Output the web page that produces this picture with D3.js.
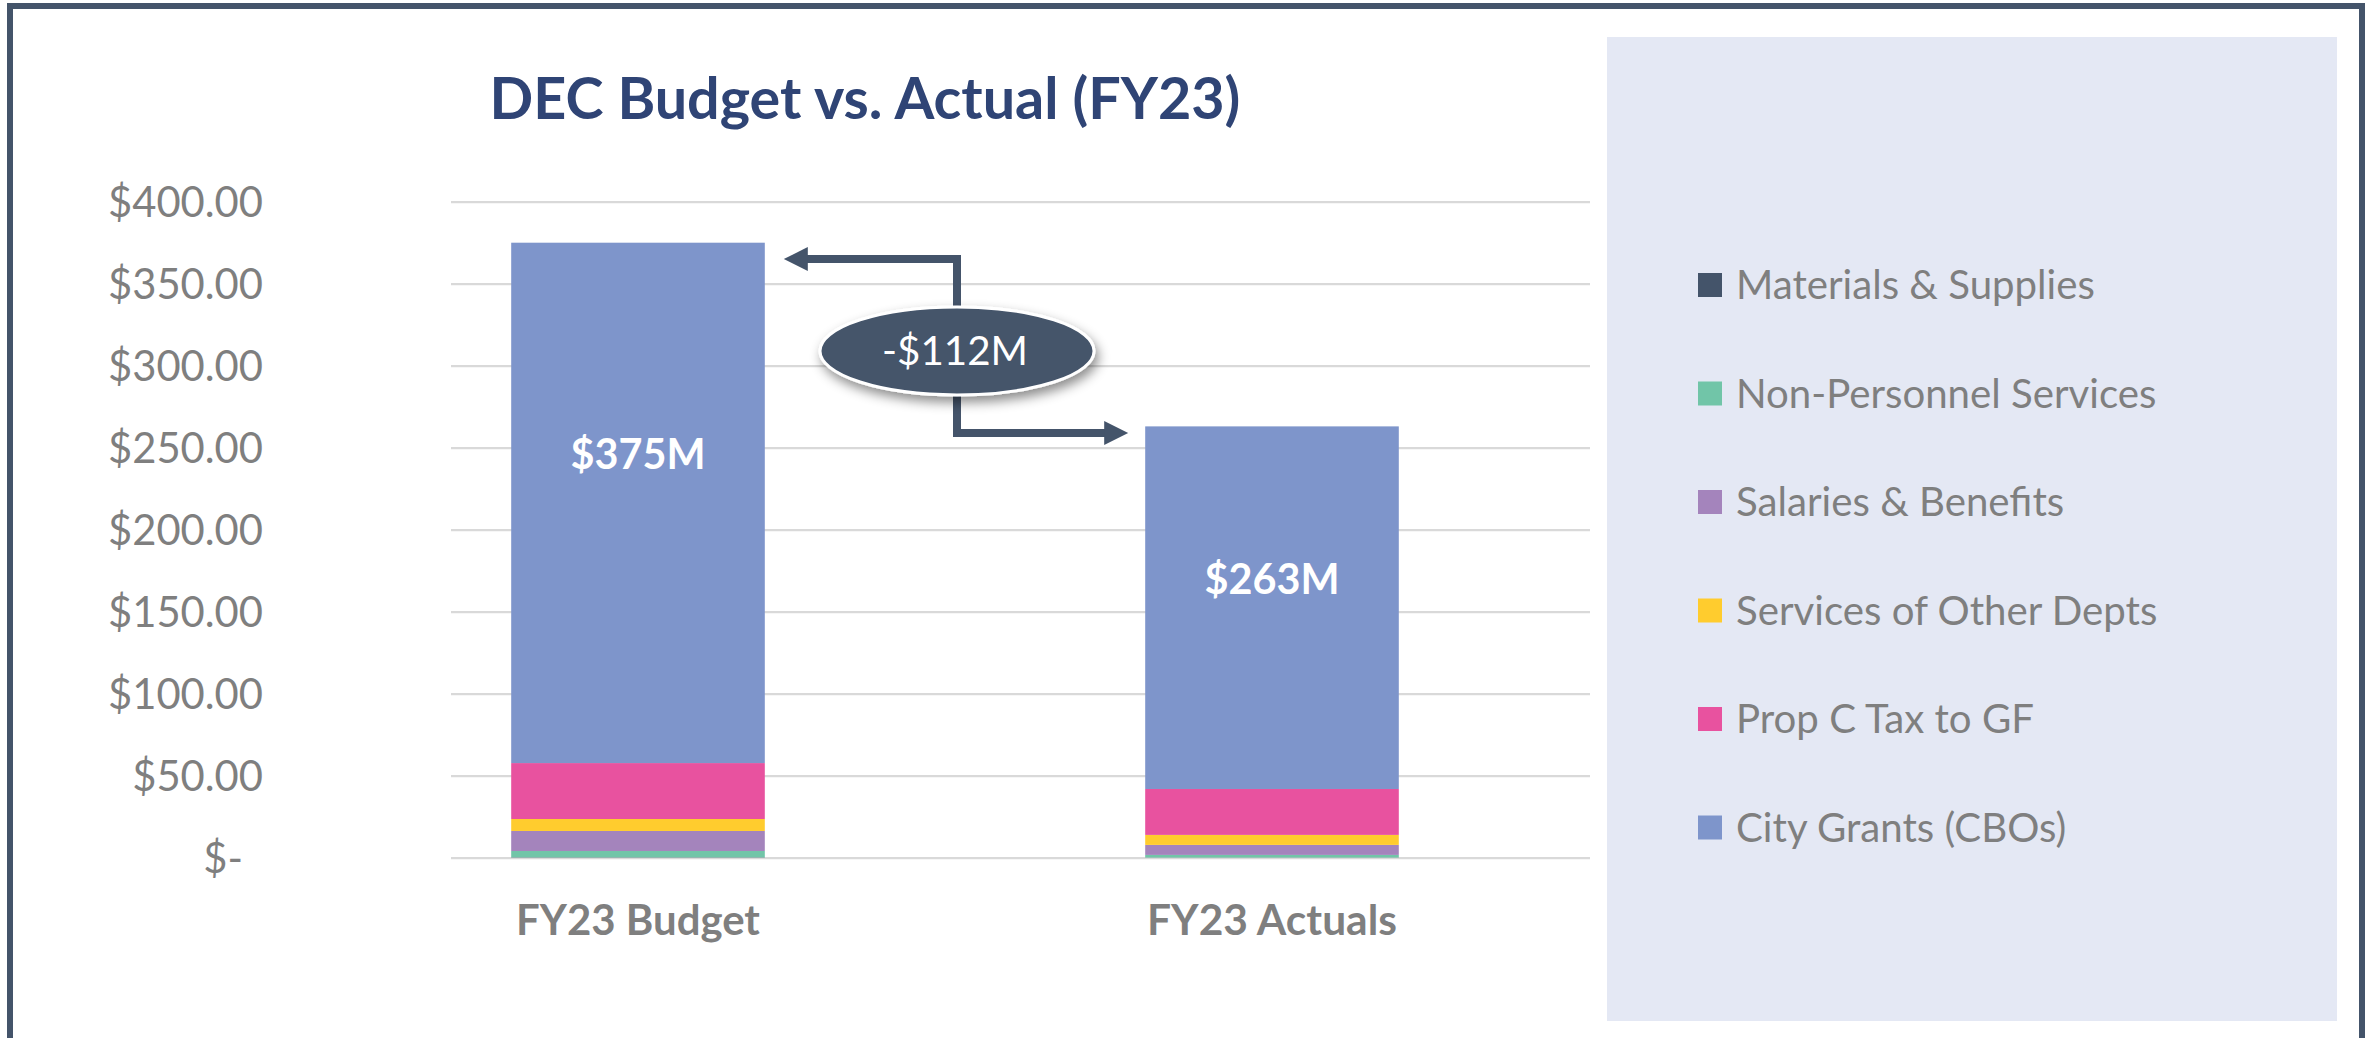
<!DOCTYPE html>
<html><head><meta charset="utf-8">
<script src="https://cdn.jsdelivr.net/npm/d3@7"></script>
<style>
body{margin:0;background:#fff}
svg{display:block}
text{font-family:Lato,'Open Sans','Noto Sans',sans-serif}
</style>
</head><body>
<svg id="c" width="2374" height="1038"></svg>
<script>
// ---------- DATA ----------
const categories = ["FY23 Budget", "FY23 Actuals"];
const seriesNames = ["Materials & Supplies", "Non-Personnel Services", "Salaries & Benefits",
                     "Services of Other Depts", "Prop C Tax to GF", "City Grants (CBOs)"];
const materials    = [0.2, 0.1];
const nonPersonnel = [3.9, 1.6];
const salaries     = [12.2, 6.1];
const otherDepts   = [7.3, 6.1];
const propC        = [34.1, 28.0];
const cityGrants   = [317.3, 221.1];
const totalLabels  = ["$375M", "$263M"];
const varianceLabel = "-$112M";
const yTicks = [0, 50, 100, 150, 200, 250, 300, 350, 400];
const titleText = "DEC Budget vs. Actual (FY23)";
const seriesColors = ["#44546A", "#71C5A8", "#A484BC", "#FFCC2E", "#E8529F", "#7E95CB"];

// ---------- SETUP ----------
const svg = d3.select("#c");
const GRAY = "#7F7F7F", DARK = "#44546A";

const seriesValues = [materials, nonPersonnel, salaries, otherDepts, propC, cityGrants];
const table = categories.map((c, i) => {
  const row = {cat: c};
  seriesNames.forEach((s, k) => row[s] = seriesValues[k][i]);
  return row;
});

function fit(sel, target) {
  const n = sel.node();
  const fs = parseFloat(sel.attr("font-size"));
  const w = n.getComputedTextLength();
  sel.attr("font-size", fs * target / w);
  return fs * target / w;
}

// legend panel
svg.append("rect").attr("x", 1607).attr("y", 37).attr("width", 730).attr("height", 984)
  .attr("fill", "#E4E8F4");

// scales
const x = d3.scaleBand().domain(categories).range([321, 1589]).padding(0);
const bw = x.bandwidth() * 0.4;
const barX = c => x(c) + (x.bandwidth() - bw) / 2;
const y = d3.scaleLinear().domain([0, 400]).range([857.7, 201.7]);

// gridlines + y axis
const gridLeft = 451, gridRight = 1590;
const yAxis = d3.axisLeft(y).tickValues(yTicks)
  .tickSize(-(gridRight - gridLeft)).tickPadding(188)
  .tickFormat(d => d === 0 ? "$-" : "$" + d3.format(".2f")(d));
const ga = svg.append("g").attr("transform", `translate(${gridLeft},0)`).call(yAxis);
ga.select(".domain").remove();
ga.selectAll(".tick line").attr("stroke", "#D9D9D9").attr("stroke-width", 2.2);
ga.selectAll(".tick text").attr("fill", GRAY).attr("font-size", 40).attr("font-family", null);
let tickFs = 40;
ga.selectAll(".tick text").filter(d => d === 400).each(function(){ tickFs = fit(d3.select(this), 155); });
ga.selectAll(".tick text").attr("font-size", tickFs).attr("dy", "0.36em");
ga.selectAll(".tick text").filter(d => d === 0).attr("dx", -20);

// stacked bars
const stack = d3.stack().keys(seriesNames)(table);
svg.append("g").selectAll("g").data(stack).join("g")
  .attr("fill", (d, i) => seriesColors[i])
  .selectAll("rect").data(d => d).join("rect")
  .attr("x", d => barX(d.data.cat))
  .attr("width", bw)
  .attr("y", d => y(d[1]))
  .attr("height", d => y(d[0]) - y(d[1]));

// total labels inside bars
const labelVals = [237, 161];
categories.forEach((c, i) => {
  const t = svg.append("text").attr("x", barX(c) + bw / 2).attr("y", y(labelVals[i]))
    .attr("text-anchor", "middle").attr("font-weight", 700).attr("fill", "#fff")
    .attr("font-size", 40).text(totalLabels[i]);
  fit(t, 135);
});

// category labels
const catW = [244, 250];
categories.forEach((c, i) => {
  const t = svg.append("text").attr("x", barX(c) + bw / 2).attr("y", 935)
    .attr("text-anchor", "middle").attr("font-weight", 700).attr("fill", GRAY)
    .attr("font-size", 40).text(c);
  fit(t, catW[i]);
});

// title
const tt = svg.append("text").attr("x", 865).attr("y", 119).attr("text-anchor", "middle")
  .attr("font-weight", 700).attr("fill", "#2F4475").attr("font-size", 50).text(titleText);
fit(tt, 751);

// legend
let legFs = 40;
const legG = svg.append("g");
seriesNames.forEach((s, i) => {
  const cy = 285 + i * 108.5;
  legG.append("rect").attr("x", 1698).attr("y", cy - 12).attr("width", 24).attr("height", 24)
    .attr("fill", seriesColors[i]);
  legG.append("text").attr("class", "lt").attr("x", 1736).attr("y", cy)
    .attr("dy", "0.36em").attr("fill", GRAY).attr("font-size", 40).text(s);
});
legFs = fit(legG.select(".lt"), 359);
legG.selectAll(".lt").attr("font-size", legFs);

// variance annotation
const defs = svg.append("defs");
const f = defs.append("filter").attr("id", "sh").attr("x", "-30%").attr("y", "-50%")
  .attr("width", "160%").attr("height", "220%");
f.append("feDropShadow").attr("dx", 3).attr("dy", 6).attr("stdDeviation", 6)
  .attr("flood-color", "#000").attr("flood-opacity", 0.45);

const bar1Right = barX(categories[0]) + bw;
const bar2Left = barX(categories[1]);
const xMid = (bar1Right + bar2Left) / 2 + 2;
const ey = y(309), ery = 44, erx = 137;
const yUp = y(365), yDn = y(259);
const headL = 24, headH = 24;
const tip1 = bar1Right + 19, tip2 = bar2Left - 17;

const ann = svg.append("g");
const line = d3.line();
ann.append("path").attr("d", line([[xMid, ey - ery + 4], [xMid, yUp], [tip1 + headL - 1, yUp]]))
  .attr("fill", "none").attr("stroke", DARK).attr("stroke-width", 8).attr("stroke-linejoin", "miter");
ann.append("path").attr("d", line([[tip1, yUp], [tip1 + headL, yUp - headH / 2], [tip1 + headL, yUp + headH / 2]]) + "Z")
  .attr("fill", DARK);
ann.append("path").attr("d", line([[xMid, ey + ery - 4], [xMid, yDn], [tip2 - headL + 1, yDn]]))
  .attr("fill", "none").attr("stroke", DARK).attr("stroke-width", 8).attr("stroke-linejoin", "miter");
ann.append("path").attr("d", line([[tip2, yDn], [tip2 - headL, yDn - headH / 2], [tip2 - headL, yDn + headH / 2]]) + "Z")
  .attr("fill", DARK);
ann.append("ellipse").attr("cx", xMid).attr("cy", ey).attr("rx", erx).attr("ry", ery)
  .attr("fill", DARK).attr("stroke", "#fff").attr("stroke-width", 3).attr("filter", "url(#sh)");
const vt = ann.append("text").attr("x", xMid - 2).attr("y", ey).attr("dy", "0.36em")
  .attr("text-anchor", "middle").attr("fill", "#fff").attr("font-size", 40).text(varianceLabel);
fit(vt, 146);

// outer frame
svg.append("rect").attr("x", 10).attr("y", 6).attr("width", 2352).attr("height", 1200)
  .attr("fill", "none").attr("stroke", DARK).attr("stroke-width", 6);
</script>
</body></html>
